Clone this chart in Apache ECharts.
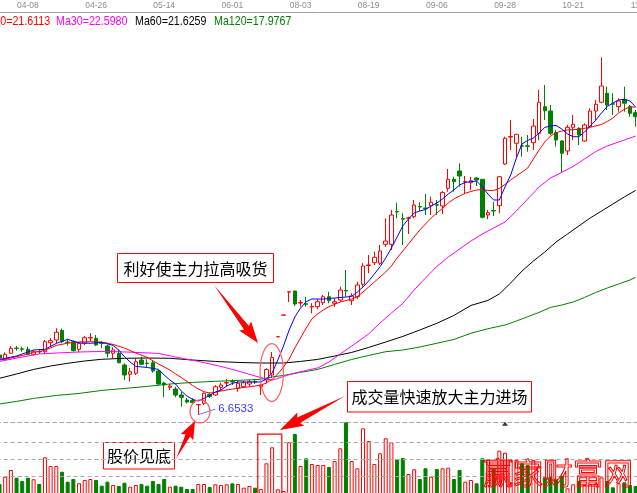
<!DOCTYPE html>
<html>
<head>
<meta charset="utf-8">
<script src="https://cdn.jsdelivr.net/npm/echarts@6/dist/echarts.min.js"></script>
<style>
html, body { margin: 0; padding: 0; background: #fff; }
#chart { width: 637px; height: 493px; }
</style>
</head>
<body>
<div id="chart"></div>
<script>
// Trading days (MM-DD); the last one only carries the clipped axis label.
const dates = ['03-31','04-01','04-02','04-06','04-07','04-08','04-09','04-12','04-13','04-14',
  '04-15','04-16','04-19','04-20','04-21','04-22','04-23','04-26','04-27','04-28',
  '04-29','04-30','05-04','05-05','05-07','05-10','05-11','05-12','05-13','05-14',
  '05-17','05-18','05-19','05-20','05-21','05-24','05-25','05-26','05-27','05-28',
  '05-31','06-01','06-02','06-03','06-04','06-07','06-08','06-09','06-10','07-28',
  '07-29','07-30','08-02','08-03','08-04','08-05','08-06','08-09','08-10','08-11',
  '08-12','08-13','08-16','08-17','08-18','08-19','08-20','08-23','08-24','08-25',
  '08-26','08-27','08-30','08-31','09-01','09-02','09-03','09-06','09-07','09-08',
  '09-09','09-10','09-13','09-14','09-15','09-17','09-20','09-21','09-27','09-28',
  '09-29','09-30','10-08','10-11','10-12','10-13','10-14','10-15','10-18','10-19',
  '10-20','10-21','10-22','10-25','10-26','10-27','10-28','10-29','11-01','11-02',
  '11-03','11-04','11-05','11-08'];

// Dates printed along the top axis.
const tickDates = ['04-08','04-26','05-14','06-01','08-03','08-19','09-06','09-28','10-21','11-08'];

// Daily bars: [open, close, low, high]
const candles = [
  [10.83,10.62,10.48,10.97],[10.53,10.88,10.45,11.01],[10.95,11.30,10.90,11.46],[11.31,11.29,11.13,11.46],[11.26,11.24,11.06,11.41],
  [11.23,10.88,10.83,11.41],[10.88,11.06,10.79,11.15],[11.07,11.05,10.90,11.23],[11.06,11.76,10.88,11.88],[11.69,11.83,11.46,12.02],
  [11.88,12.42,11.65,12.70],[12.55,11.77,11.65,12.68],[11.73,11.70,11.48,11.93],[11.76,11.13,11.08,11.85],[11.23,11.65,11.02,11.74],
  [11.65,12.04,11.53,12.16],[12.02,12.05,11.76,12.35],[12.00,11.53,11.46,12.23],[11.66,11.64,11.32,11.79],[11.46,10.95,10.67,11.53],
  [10.95,11.18,10.60,11.37],[10.95,10.29,10.25,11.23],[10.13,9.43,9.08,10.25],[9.48,9.66,8.96,9.92],[9.55,10.36,9.43,10.60],
  [10.48,10.18,10.13,10.71],[10.26,10.23,9.97,10.53],[10.29,9.71,9.59,10.48],[9.71,8.80,8.75,9.78],[8.87,8.73,7.87,8.96],
  [8.57,8.66,8.38,8.80],[8.45,8.03,7.87,8.61],[8.03,7.87,7.21,8.26],[7.68,7.54,7.43,7.82],[7.64,7.50,7.37,7.82],
  [7.34,7.37,6.6533,7.37],[7.45,8.15,7.33,8.20],[8.07,7.93,7.82,8.22],[8.03,8.61,7.96,8.73],[8.57,8.73,8.38,8.89],
  [8.87,8.90,8.61,9.13],[8.97,8.94,8.73,9.13],[8.50,8.85,8.26,9.03],[8.61,8.89,8.52,9.01],[8.80,8.96,8.66,9.08],
  [8.97,8.94,8.80,9.11],[8.61,8.73,8.03,8.80],[9.08,9.81,8.85,9.90],[9.43,10.66,9.22,11.04],[12.10,12.11,12.10,12.11],
  [13.62,13.63,13.62,13.63],[15.24,15.26,14.54,15.26],[15.31,14.40,14.26,15.31],[14.47,14.50,14.21,14.68],[14.41,14.38,14.21,14.91],
  [14.19,14.22,13.75,14.45],[14.21,14.56,14.03,14.73],[14.49,14.91,14.33,15.03],[14.91,14.63,14.45,15.26],[14.45,14.56,14.21,14.80],
  [14.68,15.38,14.56,15.61],[15.34,15.31,14.91,16.78],[14.63,14.96,14.33,15.15],[14.91,15.73,14.73,15.96],[15.78,17.06,15.61,17.25],
  [17.09,17.13,16.55,17.83],[17.29,17.67,17.13,18.06],[17.25,18.11,17.13,18.53],[18.58,18.81,18.41,20.40],[18.58,20.63,18.18,20.98],
  [20.87,20.84,20.40,21.49],[20.37,20.34,18.53,20.75],[20.40,20.43,19.30,20.51],[20.51,21.33,20.40,21.68],[21.22,21.19,20.91,21.52],
  [21.12,21.08,20.63,22.10],[21.28,21.52,20.63,21.91],[21.34,21.32,20.63,21.68],[21.26,22.20,20.70,22.31],[22.50,23.13,22.26,23.85],
  [23.13,22.96,22.26,23.31],[23.71,23.36,22.61,24.25],[22.94,22.97,22.10,23.36],[22.89,23.03,22.38,23.31],[23.22,23.08,22.66,23.29],
  [23.13,20.47,20.39,23.15],[20.63,20.79,20.33,20.98],[20.94,20.91,20.56,21.56],[21.28,23.31,20.75,23.36],[24.20,26.00,24.13,26.11],
  [26.09,26.12,25.18,27.28],[25.65,26.28,24.60,26.30],[25.47,25.45,24.71,26.11],[25.47,25.44,25.06,26.23],[25.69,26.86,25.18,27.35],
  [26.35,28.52,25.88,29.38],[28.21,27.93,27.28,29.73],[27.91,26.35,26.23,28.33],[26.39,25.88,25.41,26.58],[25.81,24.95,23.59,25.88],
  [25.11,26.77,24.83,26.93],[26.77,26.98,25.88,27.63],[26.70,26.23,25.53,26.77],[25.81,26.93,25.76,27.05],[26.81,27.91,26.70,28.10],
  [27.91,28.38,27.28,28.68],[28.52,29.66,28.45,31.67],[29.15,28.33,27.98,29.61],[28.41,28.39,27.63,29.15],[28.21,28.61,27.86,28.80],
  [28.73,28.45,27.86,29.61],[28.21,27.75,27.51,28.33],[27.79,27.51,26.81,27.98]
];

// Daily volume (10k lots)
const volumes = [
  2.89,5.00,6.93,4.71,3.76,4.71,4.25,2.89,10.60,8.09,
  8.09,6.44,3.55,4.33,3.09,4.04,4.33,4.04,2.40,3.55,
  2.60,2.31,3.26,2.11,2.60,2.89,2.40,3.76,2.89,4.33,
  2.11,2.40,2.11,1.44,1.44,2.89,2.89,2.02,2.80,2.60,
  2.80,3.09,2.89,1.82,2.31,1.82,1.44,8.87,13.49,1.36,
  0.87,14.94,17.33,8.09,10.31,8.67,8.38,8.38,7.80,9.53,
  13.20,20.70,9.53,7.42,18.98,15.31,8.67,11.76,16.09,14.94,
  10.11,10.40,5.78,7.14,4.33,7.42,5.00,7.22,7.42,7.60,
  4.33,6.93,3.55,4.04,3.09,10.31,9.82,7.51,12.51,11.93,
  10.02,9.82,8.87,8.38,9.82,8.09,4.82,5.00,4.25,5.29,
  1.65,2.80,3.76,2.60,2.89,3.09,4.82,3.76,1.94,3.09,
  3.38,2.60,2.31
];

// Moving averages as [day index, price]
const ma5 = [[0,10.52],[3,10.76],[6,11.18],[8,11.23],[10,11.64],[12,11.93],[14,11.67],[16,11.65],[18,11.71],[20,11.50],
  [21,11.18],[22,10.71],[23,10.34],[24,10.03],[26,9.96],[28,9.82],[29,9.43],[30,9.08],[31,8.80],[32,8.31],
  [33,7.96],[34,7.72],[35,7.61],[36,7.79],[37,8.00],[38,8.24],[39,8.38],[40,8.66],[41,8.84],[42,8.94],
  [44,8.94],[46,8.94],[47,9.15],[48,9.57],[49,10.48],[50,11.46],[51,12.58],[52,13.49],[53,14.12],[54,14.56],
  [55,14.75],[57,14.75],[59,14.82],[61,14.89],[62,14.93],[63,15.24],[64,15.59],[65,16.01],[66,16.50],[67,17.01],
  [68,17.62],[69,18.32],[70,19.09],[71,19.86],[72,20.35],[73,20.77],[74,20.91],[75,21.02],[76,21.26],[77,21.47],
  [78,21.75],[79,22.10],[80,22.38],[81,22.73],[82,22.91],[83,22.96],[84,23.01],[85,22.59],[86,22.10],[87,21.68],
  [88,21.68],[89,22.59],[90,23.43],[91,24.62],[92,25.60],[93,25.85],[94,26.02],[95,26.37],[96,26.76],[97,26.86],
  [98,26.90],[99,26.65],[100,26.30],[101,26.11],[102,26.11],[103,26.44],[104,26.86],[105,27.28],[106,27.77],[107,28.23],
  [108,28.47],[109,28.68],[110,28.73],[111,28.61],[112,28.19]];
const ma10 = [[0,10.48],[2,10.62],[4,10.80],[6,11.01],[8,11.16],[10,11.50],[12,11.66],[14,11.74],[16,11.76],[18,11.74],
  [20,11.57],[22,11.32],[24,10.97],[26,10.66],[28,10.20],[30,9.78],[31,9.50],[32,9.26],[33,8.98],[34,8.70],
  [35,8.45],[36,8.26],[37,8.17],[38,8.21],[39,8.31],[41,8.45],[43,8.56],[45,8.66],[46,8.73],[47,8.87],
  [48,9.12],[49,9.50],[50,9.99],[51,10.55],[52,11.32],[53,12.02],[54,12.72],[55,13.35],[56,13.70],[57,13.98],
  [58,14.21],[60,14.54],[62,14.75],[63,14.91],[64,15.24],[65,15.59],[66,15.94],[67,16.29],[68,16.64],[69,17.06],
  [70,17.62],[71,18.11],[72,18.60],[73,19.09],[74,19.58],[75,20.00],[76,20.42],[77,20.77],[78,21.09],[79,21.47],
  [80,21.75],[81,21.96],[82,22.15],[83,22.28],[84,22.38],[85,22.42],[86,22.35],[87,22.35],[88,22.49],[89,22.77],
  [90,23.08],[91,23.36],[92,23.64],[93,23.92],[94,24.55],[95,25.18],[96,25.74],[97,26.16],[98,26.39],[99,26.51],
  [100,26.58],[102,26.63],[104,26.77],[106,26.97],[107,27.18],[108,27.42],[109,27.77],[110,28.02],[111,28.21],[112,28.17]];
const ma30 = [[0,10.38],[4,10.69],[7,10.90],[10,10.97],[14,11.04],[18,11.08],[21,11.06],[24,11.01],[28,10.94],[31,10.69],
  [35,10.38],[39,10.03],[42,9.71],[45,9.36],[47,9.15],[48,9.08],[49,9.19],[50,9.33],[52,9.57],[54,9.75],
  [56,9.92],[58,10.34],[60,10.90],[62,11.46],[64,12.02],[65,12.30],[67,13.07],[69,13.77],[71,14.44],[73,15.38],
  [75,16.22],[77,17.03],[79,17.69],[81,18.25],[83,18.81],[85,19.30],[87,19.72],[89,20.14],[91,20.91],[93,21.75],
  [95,22.59],[97,23.22],[99,23.61],[101,24.03],[103,24.55],[105,25.08],[107,25.46],[109,25.74],[111,26.02],[112,26.16]];
const ma60 = [[0,9.20],[3,9.50],[6,9.82],[9,10.06],[12,10.25],[15,10.41],[18,10.53],[22,10.60],[26,10.62],[30,10.60],
  [34,10.48],[38,10.38],[42,10.31],[46,10.27],[50,10.27],[53,10.38],[56,10.52],[59,10.76],[62,11.01],[65,11.36],
  [68,11.74],[71,12.13],[74,12.58],[77,13.05],[80,13.60],[83,14.30],[86,14.65],[88,15.10],[90,15.87],[92,16.71],
  [94,17.41],[96,18.04],[98,18.74],[100,19.30],[102,19.86],[104,20.42],[106,20.91],[108,21.40],[110,21.89],[112,22.35]];
const ma120 = [[0,7.40],[3,7.58],[6,7.79],[10,8.00],[14,8.14],[18,8.35],[22,8.49],[26,8.63],[30,8.80],[34,8.91],
  [38,8.99],[42,9.05],[46,9.13],[48,9.29],[50,9.40],[53,9.61],[56,9.82],[59,10.17],[62,10.52],[65,10.80],
  [68,11.06],[71,11.18],[74,11.39],[77,11.65],[80,11.92],[83,12.35],[86,12.67],[89,12.93],[91,13.21],[93,13.51],
  [95,13.81],[97,14.16],[99,14.33],[101,14.54],[103,14.86],[105,15.21],[107,15.52],[109,15.80],[111,16.08],[112,16.27]];

// Values shown in the moving-average readout line.
const maReadout = [['Ma10', 21.6113], ['Ma30', 22.5980], ['Ma60', 21.6259], ['Ma120', 17.9767]];
const lowPrice = 6.6533;
const volGuides = [5, 10, 15];
const flagDays = [89];

const UP = '#ff0000', DOWN = '#008000';
const gridLeft = -3.34, gridWidth = 647.5;

function isUp(i) {
  const c = candles[i];
  if (c[1] !== c[0]) return c[1] > c[0];
  return i > 0 && c[1] >= candles[i - 1][1];
}

const volData = volumes.map((v, i) => ({
  value: v,
  itemStyle: isUp(i)
    ? { color: '#ffffff', borderColor: UP, borderWidth: 1 }
    : { color: DOWN, borderColor: DOWN, borderWidth: 1 }
}));

function maSeries(data, color) {
  return {
    type: 'line', xAxisIndex: 0, yAxisIndex: 0, data: data,
    showSymbol: false, symbol: 'none', silent: true, z: 4,
    lineStyle: { color: color, width: 1 }
  };
}

const chart = echarts.init(document.getElementById('chart'), null, { renderer: 'canvas' });

chart.setOption({
  animation: false,
  backgroundColor: '#ffffff',
  grid: [
    { left: gridLeft, width: gridWidth, top: 12, height: 412, containLabel: false, outerBoundsMode: 'none' },
    { left: gridLeft, width: gridWidth, top: 422, height: 72, containLabel: false, outerBoundsMode: 'none' }
  ],
  xAxis: [
    {
      type: 'category', gridIndex: 0, data: dates, position: 'top', boundaryGap: true,
      axisLine: { onZero: false, lineStyle: { color: '#a0a0a0', width: 1 } },
      axisTick: { show: false }, splitLine: { show: false },
      axisLabel: {
        interval: (idx, val) => tickDates.includes(val),
        color: '#8c8c8c', fontSize: 8.5, fontFamily: 'Liberation Sans', margin: 1.5
      }
    },
    {
      type: 'category', gridIndex: 1, data: dates, position: 'top', boundaryGap: true,
      axisLine: { onZero: false, lineStyle: { color: '#a8a8a8', width: 1, type: [4, 3] } },
      axisTick: { show: false }, axisLabel: { show: false }, splitLine: { show: false }
    }
  ],
  yAxis: [
    { type: 'value', gridIndex: 0, min: 6, max: 34.84, show: false },
    { type: 'value', gridIndex: 1, min: 0, max: 20.8, show: false }
  ],
  series: [
    {
      type: 'bar', xAxisIndex: 1, yAxisIndex: 1, data: volData, barWidth: 4, silent: true, z: 2,
      markLine: {
        silent: true, symbol: 'none', label: { show: false },
        lineStyle: { color: '#a8a8a8', width: 1, type: [4, 3] },
        data: volGuides.map(v => ({ yAxis: v }))
      }
    },
    {
      type: 'scatter', xAxisIndex: 1, yAxisIndex: 1, silent: true, z: 3,
      data: flagDays.map(d => [d, 20.3]), symbol: 'triangle', symbolSize: [6, 4],
      itemStyle: { color: '#000000' }
    },
    {
      type: 'candlestick', xAxisIndex: 0, yAxisIndex: 0, data: candles, barWidth: 4, silent: true, z: 3,
      itemStyle: { color: '#ffffff', color0: DOWN, borderColor: UP, borderColor0: DOWN, borderWidth: 1 },
      markPoint: {
        silent: true,
        symbol: 'path://M0,11 L34,0', symbolSize: [17, 5.5], symbolOffset: [8.5, -2.75],
        itemStyle: { color: 'rgba(0,0,0,0)', borderColor: '#2f2fff', borderWidth: 1 },
        label: {
          show: true, position: 'right', distance: 2, offset: [0, -3],
          color: '#3a3aff', fontSize: 11.5, fontFamily: 'Liberation Sans',
          formatter: p => p.value.toFixed(4)
        },
        data: [{ coord: [35, lowPrice], value: lowPrice }]
      }
    },
    maSeries(ma120, '#008000'),
    maSeries(ma60, '#000000'),
    maSeries(ma30, '#ff00ff'),
    maSeries(ma10, '#ff0000'),
    maSeries(ma5, '#0000ff')
  ]
});

// ---- annotations ----
const px = (i, p) => chart.convertToPixel({ xAxisIndex: 0, yAxisIndex: 0 }, [i, p]);
const pv = (i, v) => chart.convertToPixel({ xAxisIndex: 1, yAxisIndex: 1 }, [i, v]);

function arrowPoints(tail, tip, headLen, headHalf, shaftHalf) {
  const dx = tip[0] - tail[0], dy = tip[1] - tail[1];
  const len = Math.hypot(dx, dy);
  const ux = dx / len, uy = dy / len, nx = -uy, ny = ux;
  const bx = tip[0] - ux * headLen, by = tip[1] - uy * headLen;
  const wx = tip[0] - ux * headLen * 1.12, wy = tip[1] - uy * headLen * 1.12;
  return [
    tail,
    [bx + nx * shaftHalf, by + ny * shaftHalf],
    [wx + nx * headHalf, wy + ny * headHalf],
    tip,
    [wx - nx * headHalf, wy - ny * headHalf],
    [bx - nx * shaftHalf, by - ny * shaftHalf]
  ];
}

function noteBox(x, y, w, h, text) {
  return {
    type: 'group', z: 120,
    children: [
      { type: 'rect', shape: { x: x, y: y, width: w, height: h },
        style: { fill: '#ffffff', stroke: '#ff0000', lineWidth: 1 } },
      { type: 'text', x: x + w / 2, y: y + h / 2 + 0.5,
        style: { text: text, fill: '#000000', font: '16px "Noto Sans CJK SC"', align: 'center', verticalAlign: 'middle' } }
    ]
  };
}

const breakout = px(48, 9.6);
const bottom = px(35, lowPrice);
const volL = pv(46, 0), volR = pv(49, 0), volT = pv(48, 17.3);

const readoutX = [-20.5, 56, 135, 214];
const readoutColor = ['#ff0000', '#ff00ff', '#000000', '#008000'];

const graphics = [];
maReadout.forEach((m, k) => {
  graphics.push({
    type: 'text', x: readoutX[k], y: 21, scaleX: 0.82, z: 120,
    style: { text: m[0] + '=' + m[1].toFixed(4), fill: readoutColor[k], font: '13px "Liberation Sans"', verticalAlign: 'middle' }
  });
});

graphics.push(
  { type: 'ellipse', z: 110, shape: { cx: breakout[0] - 0.4, cy: breakout[1], rx: 11.7, ry: 29 },
    style: { fill: 'rgba(0,0,0,0)', stroke: '#ff6060', lineWidth: 1.2 } },
  { type: 'ellipse', z: 110, shape: { cx: bottom[0] + 1.7, cy: bottom[1] - 3.2, rx: 10, ry: 11.5 },
    style: { fill: 'rgba(0,0,0,0)', stroke: '#ff6060', lineWidth: 1.2 } },
  { type: 'rect', z: 110, shape: { x: volL[0] - 3, y: volT[1], width: volR[0] + 4 - (volL[0] - 3), height: 494 - volT[1] },
    style: { fill: 'rgba(0,0,0,0)', stroke: '#ff0000', lineWidth: 1.2 } },
  { type: 'polygon', z: 115, shape: { points: arrowPoints([214, 285], [258, 343], 19, 7.5, 3) }, style: { fill: '#ff0000' } },
  { type: 'polygon', z: 115, shape: { points: arrowPoints([176, 459], [195, 421], 16, 7, 2.5) }, style: { fill: '#ff0000' } },
  { type: 'polygon', z: 115, shape: { points: arrowPoints([345, 396], [280, 430], 21, 7.5, 3) }, style: { fill: '#ff0000' } },
  noteBox(117.5, 253.5, 156, 29, '利好使主力拉高吸货'),
  noteBox(103.5, 442.5, 71, 26.5, '股价见底'),
  noteBox(347.5, 381.5, 184, 30.5, '成交量快速放大主力进场'),
  { type: 'text', x: 483, y: 473, z: 130,
    style: { text: '赢家财富网', fill: 'rgba(0,0,0,0)', stroke: '#ff0000', lineWidth: 1,
      font: '30px "Noto Sans CJK SC"', verticalAlign: 'middle' } }
);

chart.setOption({ graphic: graphics });
</script>
</body>
</html>
